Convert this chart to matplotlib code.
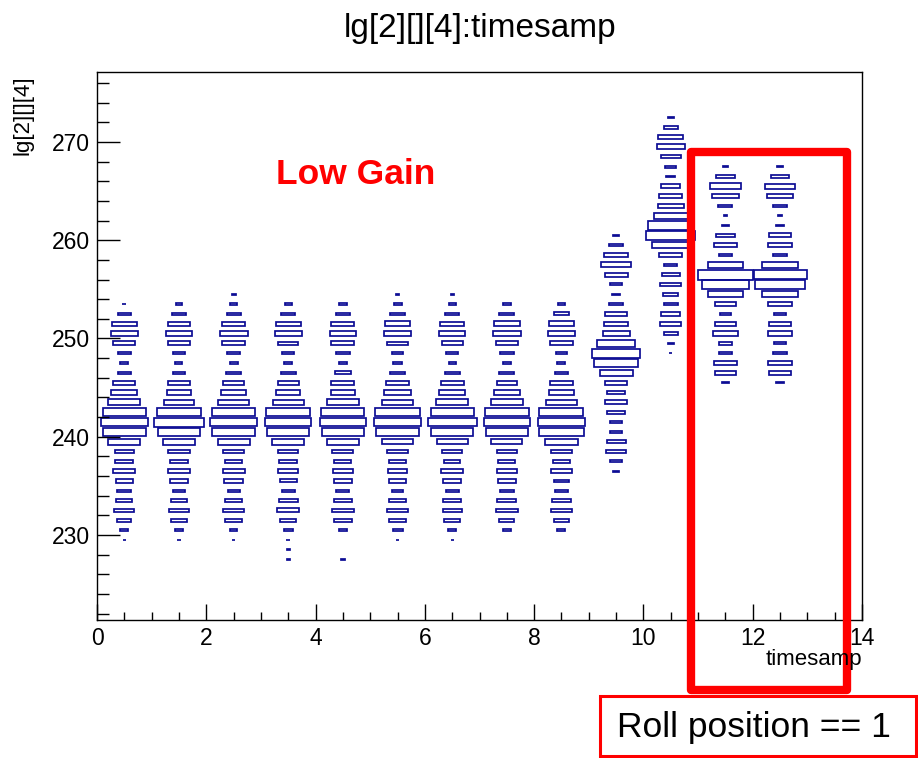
import matplotlib
matplotlib.use("Agg")
import matplotlib.pyplot as plt
from matplotlib.patches import Rectangle
from matplotlib.ticker import MultipleLocator

plt.rcParams['font.family'] = ['Liberation Sans', 'DejaVu Sans']

# ---- data: bin contents per timesamp column, listed from the top y-bin downward ----
# top_bins[i] = lower edge of the highest filled y-bin in column i
top_bins = [253, 253, 254, 253, 253, 254, 254, 253, 253, 260, 272, 267, 267]
counts_t0 = [12, 40, 75, 83, 67, 41, 25, 40, 66, 78, 97, 129, 143, 129, 97, 56, 55, 67, 53, 43, 48, 61, 43, 25, 9]
counts_t1 = [20, 43, 69, 79, 66, 39, 21, 37, 66, 75, 89, 133, 151, 125, 97, 65, 53, 65, 53, 39, 49, 60, 49, 25, 10]
counts_t2 = [12, 22, 42, 70, 84, 68, 40, 24, 44, 64, 75, 94, 132, 140, 128, 96, 64, 53, 66, 58, 36, 53, 62, 50, 22, 10]
counts_t3 = [20, 42, 75, 83, 61, 37, 23, 46, 63, 73, 95, 133, 140, 127, 96, 61, 55, 61, 51, 38, 56, 67, 49, 27, 13, 10, 10]
counts_t4 = [22, 42, 69, 79, 69, 40, 24, 49, 70, 72, 96, 130, 141, 126, 98, 63, 51, 61, 55, 39, 55, 65, 53, 24, 0, 0, 10]
counts_t5 = [10, 24, 44, 76, 84, 62, 36, 26, 44, 70, 79, 95, 134, 140, 128, 93, 64, 50, 60, 53, 36, 53, 62, 53, 30, 10]
counts_t6 = [10, 22, 44, 72, 80, 64, 36, 22, 46, 70, 80, 96, 129, 147, 128, 94, 61, 50, 66, 55, 40, 54, 58, 48, 24, 10]
counts_t7 = [23, 45, 77, 84, 65, 41, 23, 45, 61, 77, 98, 131, 140, 127, 94, 62, 51, 62, 53, 41, 57, 65, 46, 25]
counts_t8 = [20, 48, 76, 84, 70, 34, 24, 42, 70, 78, 92, 133, 142, 136, 98, 61, 49, 62, 48, 39, 56, 62, 46, 24]
counts_t9 = [20, 43, 71, 91, 70, 35, 23, 44, 65, 72, 82, 116, 145, 131, 100, 65, 53, 66, 53, 35, 37, 58, 59, 37, 18]
counts_t10 = [18, 43, 75, 85, 59, 33, 26, 57, 70, 78, 104, 138, 147, 112, 69, 39, 53, 62, 45, 41, 57, 62, 42, 17, 8]
counts_t11 = [14, 56, 94, 82, 42, 10, 22, 59, 70, 37, 106, 165, 141, 106, 65, 32, 63, 76, 38, 40, 68, 64, 22]
counts_t12 = [16, 52, 89, 79, 40, 10, 25, 67, 71, 42, 108, 160, 151, 108, 72, 34, 67, 74, 34, 40, 70, 64, 22]

columns = [counts_t0, counts_t1, counts_t2, counts_t3, counts_t4, counts_t5, counts_t6,
           counts_t7, counts_t8, counts_t9, counts_t10, counts_t11, counts_t12]

title = "lg[2][][4]:timesamp"
xlabel = "timesamp"
ylabel = "lg[2][][4]"
annot = "Low Gain"
boxnote = "Roll position == 1"

# ---- figure ----
W, H = 918, 758
fig = plt.figure(figsize=(W / 100, H / 100), dpi=100)

def fx(px):
    return px / W

def fy(py):
    return 1 - py / H

ax = fig.add_axes([fx(97), fy(620), fx(862) - fx(97), fy(72) - fy(620)])
ax.set_xlim(0, 14)
ax.set_ylim(221.35, 277.12)

edge = '#0c0c94'
cmax = max(max(c) for c in columns)
for i, (top, counts) in enumerate(zip(top_bins, columns)):
    for j, c in enumerate(counts):
        if c <= 0:
            continue
        r = c / cmax
        yc = top - j + 0.5
        xc = i + 0.5
        ax.add_patch(Rectangle((xc - r / 2, yc - r / 2), r, r, fill=False,
                               edgecolor=edge, linewidth=1.25))

ax.xaxis.set_major_locator(MultipleLocator(2))
ax.xaxis.set_minor_locator(MultipleLocator(0.5))
ax.yaxis.set_major_locator(MultipleLocator(10))
ax.yaxis.set_minor_locator(MultipleLocator(2))
ax.tick_params(axis='both', which='both', direction='in', top=False, right=False,
               width=1.0, labelsize=16.5, colors='black')
ax.tick_params(axis='x', which='major', length=11.5, pad=5)
ax.tick_params(axis='x', which='minor', length=5.8)
ax.tick_params(axis='y', which='major', length=16.5, pad=5)
ax.tick_params(axis='y', which='minor', length=8.3)
for s in ax.spines.values():
    s.set_linewidth(1.0)

fig.text(fx(480), fy(28), title, ha='center', va='center', fontsize=24)
fig.text(fx(862), fy(660), xlabel, ha='right', va='center', fontsize=16)
fig.text(fx(23), fy(75), ylabel, ha='center', va='top', rotation=90, fontsize=16)
fig.text(fx(356), fy(175), annot, ha='center', va='center', fontsize=25.5,
         fontweight='bold', color='#ff0000')

# highlight rectangle (figure coordinates)
fig.add_artist(Rectangle((fx(691), fy(690)), fx(847) - fx(691), fy(152) - fy(690),
                         transform=fig.transFigure, fill=False, edgecolor='#ff0000',
                         linewidth=6, joinstyle='round', clip_on=False))
# note box
fig.add_artist(Rectangle((fx(599.5), fy(755.5)), fx(915.5) - fx(599.5), fy(695.5) - fy(755.5),
                         transform=fig.transFigure, facecolor='white', edgecolor='#ff0000',
                         linewidth=2.2, clip_on=False))
fig.text(fx(754), fy(727), boxnote, ha='center', va='center', fontsize=25.5, color='black')

fig.savefig("out.png", dpi=100)
